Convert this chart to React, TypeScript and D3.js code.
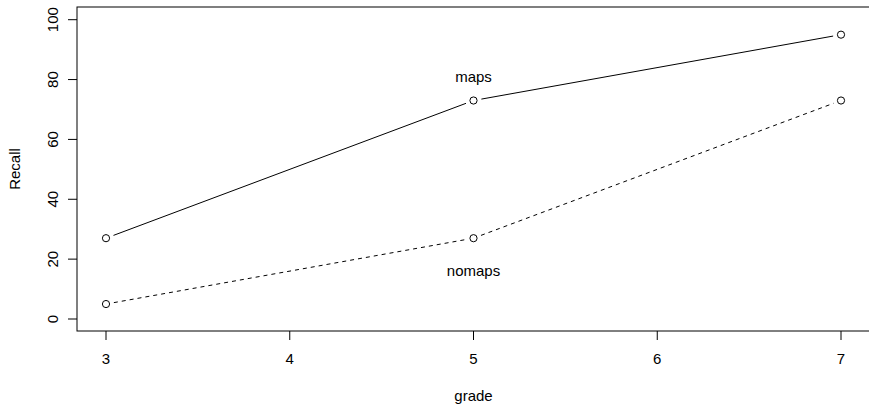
import React from "react";
import * as d3 from "d3";

const grades = [3, 5, 7];
const mapsValues = [27, 73, 95];
const nomapsValues = [5, 27, 73];
const xTicks = [3, 4, 5, 6, 7];
const yTicks = [0, 20, 40, 60, 80, 100];
const seriesLabels = [
  { text: "maps", x: 5, y: 81 },
  { text: "nomaps", x: 5, y: 16 },
];

const W = 869;
const H = 404;
const x = d3.scaleLinear().domain([3, 7]).range([106, 841]);
const y = d3.scaleLinear().domain([0, 100]).range([319, 19.7]);
const box = { left: 77, right: 870, top: 7, bottom: 331 };
const font = "Liberation Sans, Arial, Helvetica, sans-serif";
const FS = 15;
const GAP = 8;

function segments(vals: number[]) {
  const segs: { x1: number; y1: number; x2: number; y2: number }[] = [];
  for (let i = 0; i < vals.length - 1; i++) {
    const ax = x(grades[i]), ay = y(vals[i]);
    const bx = x(grades[i + 1]), by = y(vals[i + 1]);
    const dx = bx - ax, dy = by - ay;
    const len = Math.hypot(dx, dy);
    const ux = dx / len, uy = dy / len;
    segs.push({ x1: ax + ux * GAP, y1: ay + uy * GAP, x2: bx - ux * GAP, y2: by - uy * GAP });
  }
  return segs;
}

export default function App() {
  const series = [
    { vals: mapsValues, dash: undefined as string | undefined },
    { vals: nomapsValues, dash: "4,4" },
  ];
  return (
    <svg width={W} height={H} style={{ position: "absolute", left: 0, top: 0, background: "#fff" }}>
      <rect x={box.left} y={box.top} width={box.right - box.left} height={box.bottom - box.top} fill="none" stroke="#000" strokeWidth={1} />
      {xTicks.map((t) => (
        <g key={"x" + t}>
          <line x1={x(t)} x2={x(t)} y1={box.bottom} y2={box.bottom + 9} stroke="#000" />
          <text x={x(t)} y={364} textAnchor="middle" fontFamily={font} fontSize={FS} fill="#000">{t}</text>
        </g>
      ))}
      {yTicks.map((t) => (
        <g key={"y" + t}>
          <line x1={box.left - 9} x2={box.left} y1={y(t)} y2={y(t)} stroke="#000" />
          <text transform={`translate(58,${y(t)}) rotate(-90)`} textAnchor="middle" fontFamily={font} fontSize={FS} fill="#000">{t}</text>
        </g>
      ))}
      <text x={(box.left + box.right) / 2} y={401} textAnchor="middle" fontFamily={font} fontSize={FS}>grade</text>
      <text transform={`translate(20,${(box.top + box.bottom) / 2}) rotate(-90)`} textAnchor="middle" fontFamily={font} fontSize={FS}>Recall</text>
      {series.map((s, si) => (
        <g key={si}>
          {segments(s.vals).map((sg, i) => (
            <line key={i} {...sg} stroke="#000" strokeWidth={1} strokeDasharray={s.dash} />
          ))}
          {s.vals.map((v, i) => (
            <circle key={i} cx={x(grades[i])} cy={y(v)} r={3.6} fill="none" stroke="#000" strokeWidth={1} />
          ))}
        </g>
      ))}
      {seriesLabels.map((l) => (
        <text key={l.text} x={x(l.x)} y={y(l.y)} dy="0.35em" textAnchor="middle" fontFamily={font} fontSize={FS}>{l.text}</text>
      ))}
    </svg>
  );
}
